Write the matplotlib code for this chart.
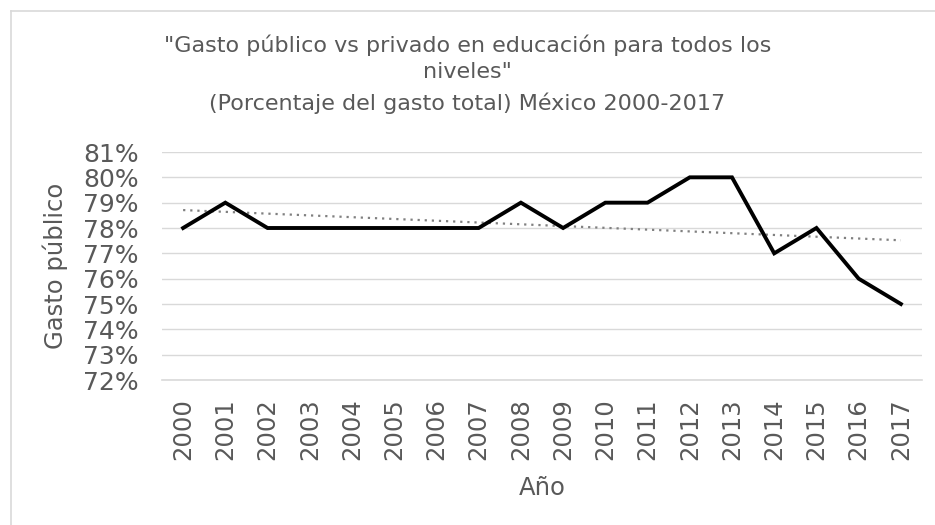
import numpy as np
import matplotlib
matplotlib.use("Agg")
import matplotlib.pyplot as plt
from matplotlib.lines import Line2D

# datos (porcentaje del gasto total)
years = [str(y) for y in range(2000, 2018)]
gasto_publico = [78, 79, 78, 78, 78, 78, 78, 78, 79, 78, 79, 79, 80, 80, 77, 78, 76, 75]

txt = "#595959"
plt.rcParams['font.family'] = ['DejaVu Sans']

W, H = 935, 525
fig = plt.figure(figsize=(W / 100, H / 100), dpi=100)
ax = fig.add_axes([162 / W, 1 - 380 / H, (922 - 162) / W, (380 - 152) / H])

x = np.arange(len(years))
ax.plot(x, gasto_publico, color="black", lw=2.8, solid_joinstyle="miter", zorder=3)

# linea de tendencia lineal
m, b = np.polyfit(x, gasto_publico, 1)
ax.plot(x, m * x + b, color="#808080", lw=1.6, ls=(0, (1, 2.2)), zorder=2)

ax.set_xlim(-0.5, len(years) - 0.5)
ax.set_ylim(72, 81)
ax.set_yticks(range(72, 82))
ax.set_yticklabels([f"{v}%" for v in range(72, 82)])
ax.set_xticks(x)
ax.set_xticklabels(years, rotation=90)
ax.tick_params(axis="y", length=0, labelsize=18, colors=txt, pad=17)
ax.tick_params(axis="x", length=0, labelsize=17.5, colors=txt, pad=13)
ax.grid(axis="y", color="#d9d9d9", lw=1)
ax.axhline(72, color="#d9d9d9", lw=1.2, clip_on=False, zorder=1)
ax.set_axisbelow(True)
for s in ax.spines.values():
    s.set_visible(False)

fig.text(55 / W, 1 - 266 / H, "Gasto público", rotation=90, ha="center", va="center",
         fontsize=17.5, color=txt)
fig.text(542 / W, 1 - 488 / H, "Año", ha="center", va="center", fontsize=17.5, color=txt)

fig.text(0.5, 1 - 45 / H, '"Gasto público vs privado en educación para todos los',
         ha="center", va="center", fontsize=16, color=txt)
fig.text(0.5, 1 - 72 / H, 'niveles"', ha="center", va="center", fontsize=16, color=txt)
fig.text(0.5, 1 - 103 / H, "(Porcentaje del gasto total) México 2000-2017",
         ha="center", va="center", fontsize=16, color=txt)

# borde del grafico
bx, by = 10.5 / W, 1 - 10.5 / H
fig.lines.append(Line2D([bx, 1], [by, by], transform=fig.transFigure, color="#d9d9d9", lw=1.2))
fig.lines.append(Line2D([bx, bx], [0, by], transform=fig.transFigure, color="#d9d9d9", lw=1.2))

fig.savefig("out.png", dpi=100)
